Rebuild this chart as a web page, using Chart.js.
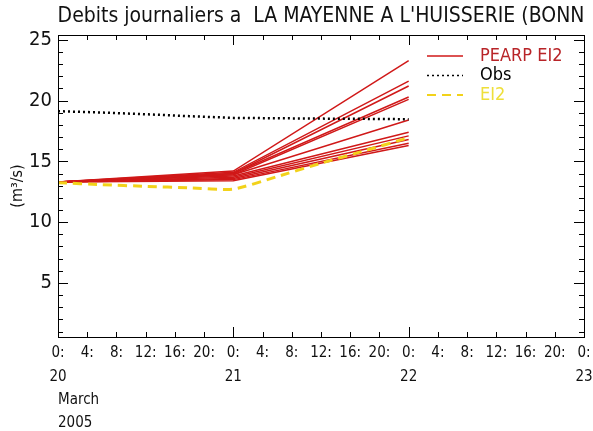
<!DOCTYPE html>
<html>
<head>
<meta charset="utf-8">
<script src="https://cdn.jsdelivr.net/npm/chart.js@4"></script>
<style>
  html, body { margin: 0; padding: 0; background: #fff; }
  #wrap { width: 593px; height: 431px; }
</style>
</head>
<body>
<div id="wrap"><canvas id="debits" width="593" height="431"></canvas></div>
<script>
// Debits journaliers - La Mayenne a L'Huisserie, mars 2005
const FONT = "'Liberation Sans Narrow', 'DejaVu Sans Condensed', 'Liberation Sans', sans-serif";

const chartTitle = "Debits journaliers a  LA MAYENNE A L'HUISSERIE (BONN";
const dayLabels = ['20', '21', '22', '23'];
const hourTicks = [0, 4, 8, 12, 16, 20, 24, 28, 32, 36, 40, 44, 48, 52, 56, 60, 64, 68, 72];
const yTicks = [5, 10, 15, 20, 25];

// observations (heures depuis le 20 mars 0h)
const obsHours = [0, 6, 12, 18, 24, 30, 36, 42, 48];
const obsValues = [19.13, 19.02, 18.88, 18.72, 18.58, 18.55, 18.52, 18.5, 18.47];

// prevision deterministe EI2
const ei2Hours = [0, 6, 12, 18, 24, 30, 36, 42, 48];
const ei2Values = [13.25, 13.08, 12.95, 12.82, 12.72, 13.75, 14.85, 15.88, 16.95];

// membres de l'ensemble PEARP EI2
const memberHours = [0, 24, 48];
const members = [
    [13.3, 14.2, 23.3],
    [13.3, 14.1, 21.6],
    [13.3, 14.0, 21.2],
    [13.3, 14.0, 20.3],
    [13.3, 13.9, 20.1],
    [13.3, 13.9, 18.4],
    [13.3, 13.8, 17.4],
    [13.3, 13.7, 17.1],
    [13.3, 13.6, 16.8],
    [13.3, 13.5, 16.5],
    [13.3, 13.4, 16.3]
];

const RED = '#d01818';
const YELLOW = '#f2d21a';

const pts = (xs, ys) => xs.map((x, i) => ({ x: x, y: ys[i] }));

const datasets = members.map((m, i) => ({
    label: i === 0 ? 'PEARP EI2' : '',
    data: pts(memberHours, m),
    borderColor: RED,
    borderWidth: 1.5,
    pointRadius: 0,
    tension: 0,
    order: 2
}));
datasets.push({
    label: 'Obs',
    data: pts(obsHours, obsValues),
    borderColor: '#000',
    borderWidth: 2.5,
    borderDash: [2, 3],
    pointRadius: 0,
    order: 1
});
datasets.push({
    label: 'EI2',
    data: pts(ei2Hours, ei2Values),
    borderColor: YELLOW,
    borderWidth: 3,
    borderDash: [9, 6],
    pointRadius: 0,
    tension: 0.2,
    order: 0
});

// cadre, graduations vers l'interieur, titre et legende
const cadrePlugin = {
    id: 'cadre',
    afterDraw(chart) {
        const { ctx, chartArea: a, scales } = chart;
        const x = scales.x, y = scales.y;
        ctx.save();
        ctx.strokeStyle = '#000';
        ctx.lineWidth = 1;
        ctx.strokeRect(a.left + 0.5, a.top + 0.5, a.right - a.left, a.bottom - a.top);
        ctx.beginPath();
        for (let v = 1; v <= 25; v++) {
            const py = Math.round(y.getPixelForValue(v)) + 0.5;
            const len = v % 5 === 0 ? 10 : 5;
            ctx.moveTo(a.left, py); ctx.lineTo(a.left + len, py);
            ctx.moveTo(a.right, py); ctx.lineTo(a.right - len, py);
        }
        hourTicks.forEach(h => {
            const px = Math.round(x.getPixelForValue(h)) + 0.5;
            const len = h % 24 === 0 ? 10 : 5;
            ctx.moveTo(px, a.bottom); ctx.lineTo(px, a.bottom - len);
            ctx.moveTo(px, a.top); ctx.lineTo(px, a.top + len);
        });
        ctx.stroke();

        // titre
        ctx.fillStyle = '#111';
        ctx.font = '21px ' + FONT;
        ctx.textAlign = 'center';
        ctx.textBaseline = 'middle';
        ctx.fillText(chartTitle, (a.left + a.right) / 2, 17);

        // legende
        const items = [
            { text: 'PEARP EI2', color: RED, textColor: '#b82428', width: 1.5, dash: [] },
            { text: 'Obs', color: '#000', textColor: '#000', width: 1.5, dash: [2, 3] },
            { text: 'EI2', color: YELLOW, textColor: '#eedf3a', width: 2, dash: [9, 6] }
        ];
        ctx.font = '18px ' + FONT;
        ctx.textAlign = 'left';
        items.forEach((it, i) => {
            const ly = 56 + i * 19.5;
            ctx.beginPath();
            ctx.setLineDash(it.dash);
            ctx.strokeStyle = it.color;
            ctx.lineWidth = it.width;
            ctx.moveTo(427, ly); ctx.lineTo(463, ly);
            ctx.stroke();
            ctx.setLineDash([]);
            ctx.fillStyle = it.textColor;
            ctx.fillText(it.text, 480, ly);
        });
        ctx.restore();
    }
};

new Chart(document.getElementById('debits'), {
    type: 'line',
    data: { datasets: datasets },
    options: {
        responsive: false,
        animation: false,
        layout: { padding: { left: 0, right: 9, top: 35, bottom: 0 } },
        plugins: {
            legend: { display: false },
            title: { display: false },
            tooltip: { enabled: false }
        },
        scales: {
            x: {
                type: 'linear',
                min: 0,
                max: 72,
                afterBuildTicks: s => { s.ticks = hourTicks.map(v => ({ value: v })); },
                afterFit: s => {
                    s.height = 94;
                    s.paddingLeft = 0;
                    s.paddingRight = 0;
                },
                grid: { display: false, drawTicks: false },
                border: { display: false },
                ticks: {
                    autoSkip: false,
                    maxRotation: 0,
                    padding: 4,
                    color: '#111',
                    font: { family: FONT, size: 15, lineHeight: 1.6 },
                    callback: v => {
                        const h = v % 24;
                        return h === 0 ? [h + ':', dayLabels[v / 24]] : h + ':';
                    }
                },
                title: {
                    display: true,
                    text: ['March', '2005'],
                    align: 'start',
                    color: '#111',
                    font: { family: FONT, size: 15, lineHeight: 1.5 },
                    padding: { top: 10, bottom: -3 }
                }
            },
            y: {
                min: 0.55,
                max: 25.4,
                afterBuildTicks: s => { s.ticks = yTicks.map(v => ({ value: v })); },
                afterFit: s => { s.width = 58; },
                grid: { display: false, drawTicks: false },
                border: { display: false },
                ticks: {
                    padding: 6,
                    color: '#111',
                    font: { family: FONT, size: 20 }
                },
                title: {
                    display: true,
                    text: '(m\u00b3/s)',
                    color: '#111',
                    font: { family: FONT, size: 16 },
                    padding: { top: 8, bottom: 0 }
                }
            }
        }
    },
    plugins: [cadrePlugin]
});
</script>
</body>
</html>
